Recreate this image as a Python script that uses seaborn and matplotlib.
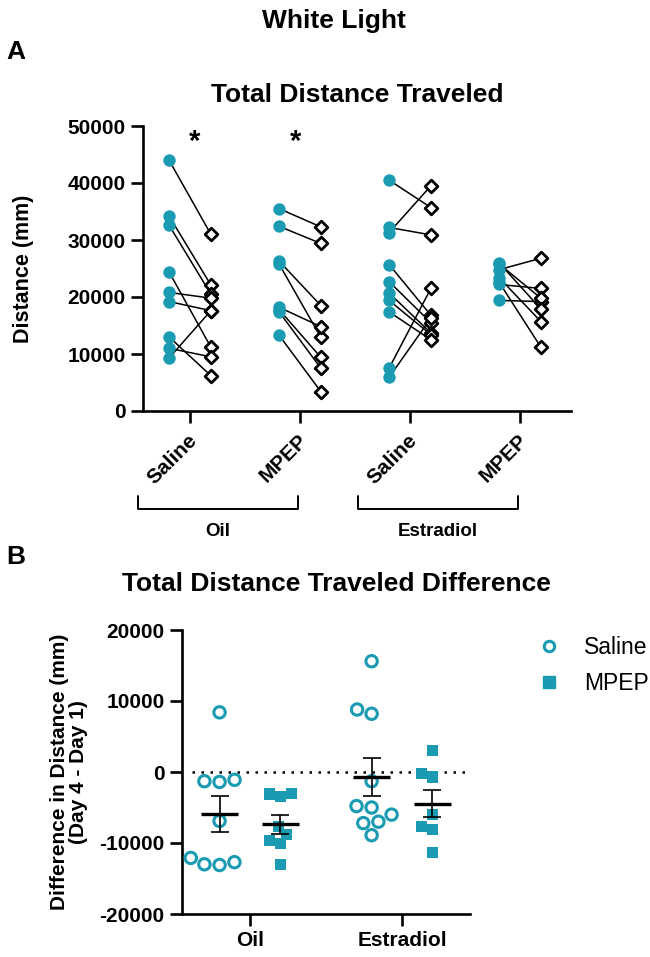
import numpy as np
import pandas as pd
import matplotlib
matplotlib.use("Agg")
import matplotlib.pyplot as plt
import matplotlib.transforms as mtransforms
from matplotlib.lines import Line2D
import seaborn as sns

# ---------------- data ----------------
# Panel A: total distance (mm), Day 1 (teal circles) vs Day 4 (open diamonds)
oil_saline_d1 = [44000, 34200, 32600, 24400, 20800, 19200, 13000, 11000, 9300]
oil_saline_d4 = [31000, 22100, 20500, 11200, 19800, 17600, 6200, 9500, 17600]
oil_mpep_d1 = [35500, 32400, 26300, 25800, 18200, 17800, 17400, 13300]
oil_mpep_d4 = [32300, 29400, 18500, 12900, 14800, 9400, 7500, 3400]
estr_saline_d1 = [40500, 32200, 31300, 25700, 22700, 20700, 19400, 17400, 7500, 5900]
estr_saline_d4 = [35700, 30900, 39500, 16800, 15500, 13700, 13400, 12500, 21500, 16300]
estr_mpep_d1 = [24800, 22200, 19400, 25800, 23400, 26000, 22600]
estr_mpep_d4 = [26800, 21500, 19200, 19800, 15700, 17900, 11200]

labels_A = ["Saline", "MPEP", "Saline", "MPEP"]
groups_A = ["Oil", "Estradiol"]
star_groups = [0, 1]

# Panel B: difference (Day 4 - Day 1)
treatments_B = ["Oil", "Estradiol"]
drugs_B = ["Saline", "MPEP"]
diff_oil_saline = [8400, -1100, -1400, -1300, -6900, -12100, -12700, -13100, -13000]
diff_oil_mpep = [-3000, -3500, -3100, -7700, -8800, -9700, -10100, -13000]
diff_estr_saline = [15600, 8200, 8800, -1300, -4800, -5000, -6000, -7000, -7200, -8900]
diff_estr_mpep = [3000, -700, -200, -6000, -7700, -8100, -11400]

yticks_A = [0, 10000, 20000, 30000, 40000, 50000]
yticks_B = [-20000, -10000, 0, 10000, 20000]

# ---------------- style ----------------
sns.set_theme(style="ticks")
plt.rcParams["font.family"] = ["Liberation Sans", "DejaVu Sans"]
plt.rcParams["axes.unicode_minus"] = False
for k in ["text.color", "axes.labelcolor", "xtick.color", "ytick.color",
          "axes.edgecolor"]:
    plt.rcParams[k] = "black"

TEAL = "#1a9bb2"
W, H = 650, 957
fig = plt.figure(figsize=(W / 100, H / 100), dpi=100)


def fx(px):
    return px / W


def fy(py):
    return 1 - py / H


def style_axis(ax):
    sns.despine(ax=ax)
    for s in ["left", "bottom"]:
        ax.spines[s].set_linewidth(1.9)
        ax.spines[s].set_color("black")
    ax.tick_params(axis="both", width=1.9, length=8.5, color="black",
                   labelcolor="black", labelsize=15, pad=4)
    for lab in ax.get_xticklabels() + ax.get_yticklabels():
        lab.set_fontweight("bold")
    ax.set_facecolor("white")


# ---------------- Panel A ----------------
axA = fig.add_axes([fx(143), fy(411), fx(571) - fx(143), fy(126) - fy(411)])

day1_A = [oil_saline_d1, oil_mpep_d1, estr_saline_d1, estr_mpep_d1]
day4_A = [oil_saline_d4, oil_mpep_d4, estr_saline_d4, estr_mpep_d4]
rows = []
for g, (d1, d4) in enumerate(zip(day1_A, day4_A)):
    for i, (a, b) in enumerate(zip(d1, d4)):
        rows.append(dict(pos=g - 0.19, value=a, subject=f"{g}-{i}", day="Day 1"))
        rows.append(dict(pos=g + 0.19, value=b, subject=f"{g}-{i}", day="Day 4"))
dfA = pd.DataFrame(rows)

sns.lineplot(data=dfA, x="pos", y="value", units="subject", estimator=None,
             color="black", lw=1.1, sort=False, legend=False, ax=axA, zorder=2)
sns.scatterplot(data=dfA[dfA.day == "Day 1"], x="pos", y="value", marker="o",
                s=80, color=TEAL, linewidth=0, legend=False, ax=axA, zorder=3)
sns.scatterplot(data=dfA[dfA.day == "Day 4"], x="pos", y="value", marker="D",
                s=42, color="white", legend=False, ax=axA, zorder=4)
colD4 = axA.collections[-1]
colD4.set_facecolor("white")
colD4.set_edgecolor("black")
colD4.set_linewidth(2.0)

for g, xo in zip(star_groups, [0.045, -0.04]):
    axA.text(g + xo, 47200, "*", ha="center", va="center", fontsize=21,
             fontweight="bold", color="black")

axA.set_xlim(-0.427, 3.464)
axA.set_ylim(0, 50000)
axA.set_yticks(yticks_A)
axA.set_yticklabels([str(v) for v in yticks_A])
axA.set_xticks(range(len(labels_A)))
axA.set_xticklabels(labels_A)
axA.set_xlabel("")
axA.set_ylabel("Distance (mm)", fontsize=15.5, fontweight="bold")
axA.yaxis.set_label_coords(-0.255, 0.5)
style_axis(axA)
axA.tick_params(axis="x", pad=10.5)
shift = mtransforms.ScaledTranslation(4 / 100, 0, fig.dpi_scale_trans)
for lab in axA.get_xticklabels():
    lab.set_rotation(45)
    lab.set_ha("right")
    lab.set_va("center")
    lab.set_rotation_mode("anchor")
    lab.set_fontsize(15)
    lab.set_transform(lab.get_transform() + shift)

# group brackets under the rotated labels
trA = mtransforms.blended_transform_factory(axA.transData, fig.transFigure)
for k, name in enumerate(groups_A):
    x0 = 2 * k - 0.47
    x1 = 2 * k + 1 - 0.02
    fig.add_artist(Line2D([x0, x0, x1, x1], [fy(496), fy(509), fy(509), fy(496)],
                          transform=trA, color="black", lw=1.4))
    fig.text((x0 + x1) / 2, fy(531), name, transform=trA, ha="center", va="center",
             fontsize=13.5, fontweight="bold")

# ---------------- Panel B ----------------
axB = fig.add_axes([fx(182), fy(914), fx(470) - fx(182), fy(630) - fy(914)])

diffs = {("Oil", "Saline"): diff_oil_saline, ("Oil", "MPEP"): diff_oil_mpep,
         ("Estradiol", "Saline"): diff_estr_saline, ("Estradiol", "MPEP"): diff_estr_mpep}
rowsB = []
for (tr, dr), vals in diffs.items():
    for v in vals:
        rowsB.append(dict(Treatment=tr, Drug=dr, Diff=v))
dfB = pd.DataFrame(rowsB)
pal = {d: TEAL for d in drugs_B}
DW = 0.8  # seaborn's default dodge width

sns.swarmplot(data=dfB[dfB.Drug == "Saline"], x="Treatment", y="Diff", hue="Drug",
              order=treatments_B, hue_order=drugs_B, palette=pal, dodge=True,
              marker="o", size=8.2, legend=False, ax=axB, zorder=3)
for c in axB.collections:
    c.set_facecolor("none")
    c.set_edgecolor(TEAL)
    c.set_linewidth(2.2)
sns.swarmplot(data=dfB[dfB.Drug == "MPEP"], x="Treatment", y="Diff", hue="Drug",
              order=treatments_B, hue_order=drugs_B, palette=pal, dodge=True,
              marker="s", size=8.0, linewidth=0, legend=False, ax=axB, zorder=3)

for gi, tr in enumerate(treatments_B):
    for hi, dr in enumerate(drugs_B):
        vals = np.array(diffs[(tr, dr)], dtype=float)
        m = vals.mean()
        se = vals.std(ddof=1) / np.sqrt(len(vals))
        xc = gi + (hi - 0.5) * DW / 2
        axB.hlines(m, xc - 0.122, xc + 0.122, color="black", lw=2.4, zorder=5)
        axB.errorbar(xc, m, yerr=se, color="black", lw=1.2, capsize=6.8,
                     capthick=1.2, zorder=5)

axB.axhline(0, xmin=0.035, xmax=0.993, color="black", lw=1.8,
            linestyle=(0, (1, 2.6)), zorder=1)

axB.set_xlim(-0.447, 1.447)
axB.set_ylim(-20000, 20000)
axB.set_yticks(yticks_B)
axB.set_yticklabels([str(v) for v in yticks_B])
axB.set_xticks(range(len(treatments_B)))
axB.set_xticklabels(treatments_B)
axB.set_xlabel("")
axB.set_ylabel("Difference in Distance (mm)\n(Day 4 - Day 1)", fontsize=15,
               fontweight="bold", linespacing=1.0)
axB.yaxis.set_label_coords(-0.325, 0.5)
style_axis(axB)

handles = [Line2D([], [], marker="o", ls="none", mfc="none", mec=TEAL, mew=2.2,
                  ms=7.5, label="Saline"),
           Line2D([], [], marker="s", ls="none", color=TEAL, ms=8, label="MPEP")]
fig.legend(handles=handles, loc="upper left", bbox_to_anchor=(fx(538), fy(636)),
           frameon=False, fontsize=16.5, handlelength=1.0, handletextpad=1.0,
           labelspacing=0.55, borderaxespad=0, borderpad=0)

# ---------------- titles ----------------
fig.text(fx(334), fy(21), "White Light", ha="center", va="center",
         fontsize=19, fontweight="bold")
fig.text(fx(16), fy(52), "A", ha="center", va="center", fontsize=19, fontweight="bold")
fig.text(fx(357), fy(95), "Total Distance Traveled", ha="center", va="center",
         fontsize=19, fontweight="bold")
fig.text(fx(16), fy(557), "B", ha="center", va="center", fontsize=19, fontweight="bold")
fig.text(fx(336), fy(584), "Total Distance Traveled Difference", ha="center",
         va="center", fontsize=19, fontweight="bold")

fig.savefig("out.png", dpi=100, facecolor="white")
